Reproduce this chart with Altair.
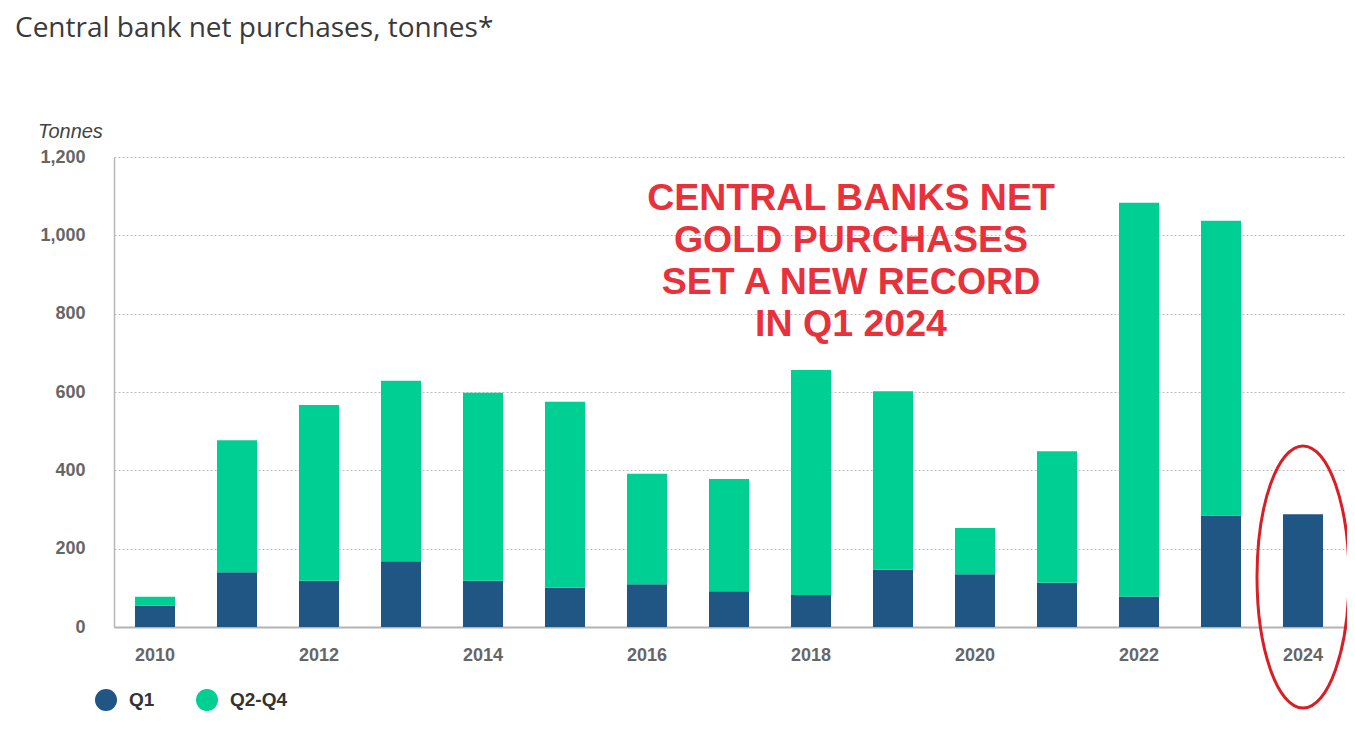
import altair as alt
import pandas as pd

# ---- data ----
years = ["2010", "2011", "2012", "2013", "2014", "2015", "2016", "2017",
         "2018", "2019", "2020", "2021", "2022", "2023", "2024"]
q1 = [54, 140, 118, 168, 118, 100, 109, 91, 82, 146, 135, 113, 78, 285, 288]
q2_q4 = [23, 337, 449, 461, 480, 475, 282, 287, 574, 456, 118, 336, 1005, 752, 0]
series = ["Q1", "Q2-Q4"]
series_colors = ["#1f5684", "#00cf93"]
y_ticks = [0, 200, 400, 600, 800, 1000, 1200]
x_label_years = ["2010", "2012", "2014", "2016", "2018", "2020", "2022", "2024"]
title_text = ["Central bank net purchases, tonnes*"]
y_unit_text = ["Tonnes"]
note_text = ["CENTRAL BANKS NET\nGOLD PURCHASES\nSET A NEW RECORD\nIN Q1 2024"]
highlight_year = ["2024"]

rows = []
for i, yr in enumerate(years):
    rows.append({"year": yr, "series": series[0], "value": q1[i], "order": 0})
    rows.append({"year": yr, "series": series[1], "value": q2_q4[i], "order": 1})
df = pd.DataFrame(rows)

LABEL_FONT = "Liberation Sans"

x_enc = alt.X(
    "year:O",
    sort=years,
    scale=alt.Scale(paddingInner=0.512, paddingOuter=0.256),
    axis=alt.Axis(
        values=x_label_years, title=None, labelAngle=0, ticks=False,
        domain=True, domainColor="#b3b3b3", domainWidth=2, grid=False,
        labelFont=LABEL_FONT, labelFontWeight="bold", labelFontSize=18,
        labelColor="#666666", labelPadding=19,
    ),
)

bars = alt.Chart(df).mark_bar().encode(
    x=x_enc,
    y=alt.Y(
        "value:Q", stack="zero",
        scale=alt.Scale(domain=[0, 1200], nice=False),
        axis=alt.Axis(
            values=y_ticks, format=",.0f", title=None, ticks=False,
            domain=True, domainColor="#b8b8b8", domainWidth=1.5,
            grid=True, gridColor="#bdbdbd", gridDash=[2, 2], gridWidth=1,
            labelFont=LABEL_FONT, labelFontWeight="bold", labelFontSize=18,
            labelColor="#666666", labelPadding=29,
        ),
    ),
    color=alt.Color(
        "series:N",
        scale=alt.Scale(domain=series, range=series_colors),
        legend=alt.Legend(
            orient="none", legendX=-19, legendY=532, direction="horizontal",
            title=None, symbolType="circle", symbolSize=484,
            symbolStrokeWidth=0, symbolOpacity=1,
            labelFont=LABEL_FONT, labelFontSize=19, labelFontWeight="bold",
            labelColor="#333333", labelOffset=12, columnPadding=41,
        ),
    ),
    order=alt.Order("order:Q"),
)

title = alt.Chart(pd.DataFrame({"t": title_text})).mark_text(
    font="Open Sans", fontSize=28, color="#3a3a3a", align="left",
    baseline="alphabetic",
).encode(x=alt.value(-99), y=alt.value(-120), text="t:N")

unit = alt.Chart(pd.DataFrame({"t": y_unit_text})).mark_text(
    font=LABEL_FONT, fontSize=20, fontStyle="italic", color="#444444",
    align="left", baseline="alphabetic",
).encode(x=alt.value(-76), y=alt.value(-19), text="t:N")

note = alt.Chart(pd.DataFrame({"t": note_text})).mark_text(
    font=LABEL_FONT, fontSize=37.5, fontWeight="bold", color="#e8313a",
    align="center", baseline="alphabetic", lineBreak="\n", lineHeight=42,
).encode(x=alt.value(737), y=alt.value(53), text="t:N")

ellipse_path = "M -0.351 0 A 0.351 1 0 1 0 0.351 0 A 0.351 1 0 1 0 -0.351 0 Z"
ellipse = alt.Chart(pd.DataFrame({"year": highlight_year})).mark_point(
    shape=ellipse_path, size=68644, filled=False, stroke="#d81f26",
    strokeWidth=3, opacity=1,
).encode(x=alt.X("year:O", sort=years), y=alt.value(420))

chart = alt.layer(bars, note, ellipse, title, unit).properties(
    width=1230, height=470,
    autosize=alt.AutoSizeParams(type="none"),
    padding={"left": 106, "top": 149, "right": 3, "bottom": 95},
).configure_view(stroke=None)

chart.save("out.html", embed_options={"renderer": "svg", "actions": False})
